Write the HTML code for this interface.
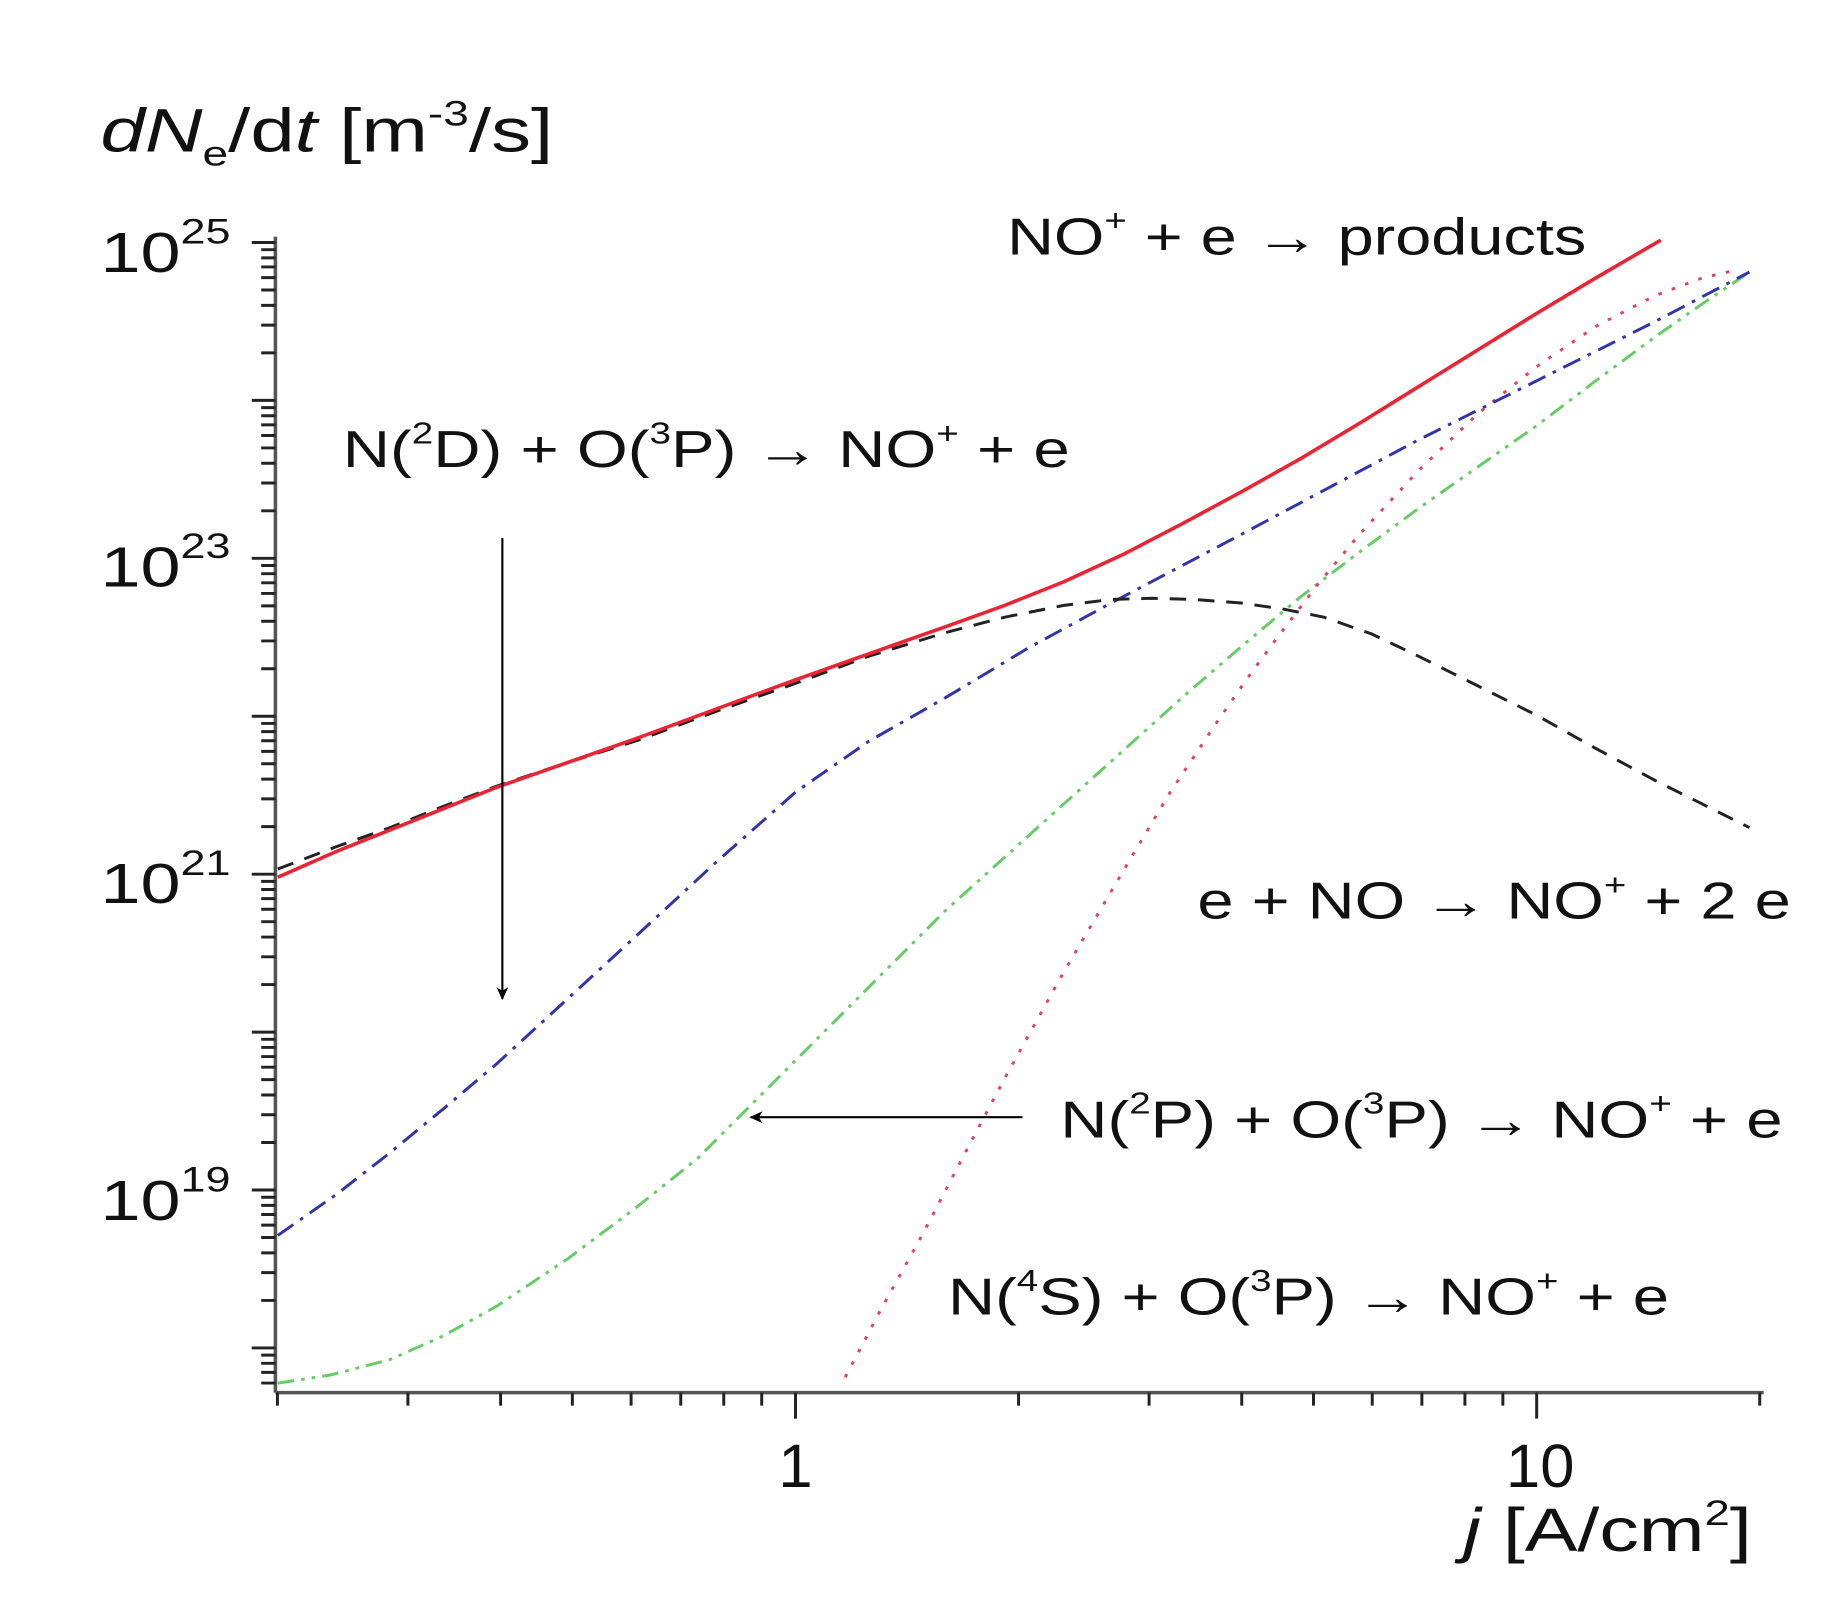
<!DOCTYPE html>
<html><head><style>html,body{margin:0;padding:0;background:#fff}svg{display:block}</style></head>
<body>
<svg width="1844" height="1602" viewBox="0 0 1560 1355" xmlns="http://www.w3.org/2000/svg" font-family="Liberation Sans, Arial, sans-serif">
<defs>
<marker id="ah" markerWidth="12" markerHeight="12" refX="10" refY="6" orient="auto" markerUnits="userSpaceOnUse"><path d="M0,1 L11,6 L0,11 L3,6 Z" fill="#000"/></marker>
<clipPath id="cy"><rect x="200" y="199" width="40" height="980"/></clipPath>
<clipPath id="cx"><rect x="232" y="1170" width="1262" height="40"/></clipPath>
<g id="yd" stroke="#222" stroke-width="2.5">
<line x1="233" y1="0" x2="213" y2="0"/>
<line x1="233" y1="-40.2" x2="221" y2="-40.2"/>
<line x1="233" y1="-63.7" x2="221" y2="-63.7"/>
<line x1="233" y1="-80.4" x2="221" y2="-80.4"/>
<line x1="233" y1="-93.4" x2="221" y2="-93.4"/>
<line x1="233" y1="-103.9" x2="221" y2="-103.9"/>
<line x1="233" y1="-112.9" x2="221" y2="-112.9"/>
<line x1="233" y1="-120.6" x2="221" y2="-120.6"/>
<line x1="233" y1="-127.5" x2="221" y2="-127.5"/>
</g>
<g id="xd" stroke="#222" stroke-width="2.5">
<line x1="0" y1="1178" x2="0" y2="1200"/>
<line x1="188.7" y1="1178" x2="188.7" y2="1189"/>
<line x1="299.1" y1="1178" x2="299.1" y2="1189"/>
<line x1="377.5" y1="1178" x2="377.5" y2="1189"/>
<line x1="438.2" y1="1178" x2="438.2" y2="1189"/>
<line x1="487.9" y1="1178" x2="487.9" y2="1189"/>
<line x1="529.9" y1="1178" x2="529.9" y2="1189"/>
<line x1="566.3" y1="1178" x2="566.3" y2="1189"/>
<line x1="598.4" y1="1178" x2="598.4" y2="1189"/>
</g>
</defs>
<g stroke="#555" stroke-width="3" fill="none">
<line x1="233" y1="200" x2="233" y2="1178"/>
<line x1="233" y1="1178" x2="1492" y2="1178"/>
</g>
<g clip-path="url(#cy)">
<use href="#yd" transform="translate(0,205)"/>
<use href="#yd" transform="translate(0,338.6)"/>
<use href="#yd" transform="translate(0,472.2)"/>
<use href="#yd" transform="translate(0,605.8)"/>
<use href="#yd" transform="translate(0,739.4)"/>
<use href="#yd" transform="translate(0,873)"/>
<use href="#yd" transform="translate(0,1006.6)"/>
<use href="#yd" transform="translate(0,1140.2)"/>
<use href="#yd" transform="translate(0,1273.8)"/>
</g>
<g clip-path="url(#cx)">
<use href="#xd" transform="translate(46,0)"/>
<use href="#xd" transform="translate(673,0)"/>
<use href="#xd" transform="translate(1300,0)"/>
</g>
<g fill="#111" font-size="48">
<text x="85" y="128" font-size="52" textLength="383" lengthAdjust="spacingAndGlyphs"><tspan font-style="italic">dN</tspan><tspan font-size="30" dy="12">e</tspan><tspan dy="-12">/d</tspan><tspan font-style="italic">t</tspan>  [m<tspan font-size="30" dy="-22">-3</tspan><tspan dy="22">/s]</tspan></text>
<text x="85" y="230" textLength="110" lengthAdjust="spacingAndGlyphs">10<tspan font-size="30" dy="-24">25</tspan></text>
<text x="85" y="496" textLength="110" lengthAdjust="spacingAndGlyphs">10<tspan font-size="30" dy="-24">23</tspan></text>
<text x="85" y="764" textLength="110" lengthAdjust="spacingAndGlyphs">10<tspan font-size="30" dy="-24">21</tspan></text>
<text x="85" y="1032" textLength="110" lengthAdjust="spacingAndGlyphs">10<tspan font-size="30" dy="-24">19</tspan></text>
<text x="673" y="1258" text-anchor="middle" font-size="52">1</text>
<text x="1303" y="1258" text-anchor="middle" font-size="52">10</text>
<text x="1238" y="1312" font-size="52" textLength="244" lengthAdjust="spacingAndGlyphs"><tspan font-style="italic">j</tspan> [A/cm<tspan font-size="30" dy="-22">2</tspan><tspan dy="22">]</tspan></text>
<text x="852" y="215" font-size="44" textLength="490" lengthAdjust="spacingAndGlyphs">NO<tspan font-size="26" dy="-20">+</tspan><tspan dy="20"> + e → products</tspan></text>
<text x="290" y="395" font-size="44" textLength="615" lengthAdjust="spacingAndGlyphs">N(<tspan font-size="26" dy="-20">2</tspan><tspan dy="20">D) + O(</tspan><tspan font-size="26" dy="-20">3</tspan><tspan dy="20">P) → NO</tspan><tspan font-size="26" dy="-20">+</tspan><tspan dy="20"> + e</tspan></text>
<text x="1013" y="777" font-size="44" textLength="502" lengthAdjust="spacingAndGlyphs">e + NO → NO<tspan font-size="26" dy="-20">+</tspan><tspan dy="20"> + 2 e</tspan></text>
<text x="897" y="962" font-size="44" textLength="611" lengthAdjust="spacingAndGlyphs">N(<tspan font-size="26" dy="-20">2</tspan><tspan dy="20">P) + O(</tspan><tspan font-size="26" dy="-20">3</tspan><tspan dy="20">P) → NO</tspan><tspan font-size="26" dy="-20">+</tspan><tspan dy="20"> + e</tspan></text>
<text x="802" y="1112" font-size="44" textLength="610" lengthAdjust="spacingAndGlyphs">N(<tspan font-size="26" dy="-20">4</tspan><tspan dy="20">S) + O(</tspan><tspan font-size="26" dy="-20">3</tspan><tspan dy="20">P) → NO</tspan><tspan font-size="26" dy="-20">+</tspan><tspan dy="20"> + e</tspan></text>
</g>
<g fill="none" stroke-width="2.5" stroke-linejoin="round">
<polyline points="235,1170 280,1163 330,1150 375,1130 420,1105 480,1065 540,1020 590,980 630,940 665,905 700,870 750,820 800,770 850,725 900,680 950,635 1000,590 1050,547 1100,505 1150,467 1200,430 1250,395 1300,360 1350,322 1400,285 1440,257 1480,230" stroke="#6c6" stroke-dasharray="14,6,3,6,3,6"/>
<polyline points="715,1165 745,1108 780,1045 815,978 850,912 900,822 950,737 990,670 1030,610 1055,574 1080,540 1115,494 1150,452 1200,398 1250,350 1300,310 1350,276 1400,250 1440,235 1470,228" stroke="#d46" stroke-dasharray="3,9"/>
<polyline points="235,1045 285,1010 330,975 375,938 420,900 480,845 540,790 605,730 673,670 735,627 800,590 870,548 940,510 995,481 1050,452 1125,412 1200,372 1250,347 1300,322 1350,297 1400,272 1440,251 1480,230" stroke="#33a" stroke-dasharray="16,7,3,7"/>
<polyline points="235,735 285,716 330,700 375,682 420,665 480,645 540,626 605,602 673,578 735,555 800,535 850,522 900,512 940,507 975,506 1010,507 1050,510 1085,515 1120,522 1160,536 1200,555 1250,580 1300,605 1350,633 1400,660 1440,680 1480,700" stroke="#222" stroke-dasharray="14,10"/>
<polyline points="235,742 285,720 330,702 375,684 420,666 480,645 540,624 605,600 673,575 735,553 800,530 850,512 900,492 950,469 1000,443 1050,416 1100,388 1150,358 1200,327 1250,296 1300,265 1350,235 1405,203" stroke="#e23" stroke-width="3"/>
</g>
<g stroke="#000" stroke-width="1.8">
<line x1="425" y1="455" x2="425" y2="845" marker-end="url(#ah)"/>
<line x1="865" y1="945" x2="635" y2="945" marker-end="url(#ah)"/>
</g>
</svg>
</body></html>
